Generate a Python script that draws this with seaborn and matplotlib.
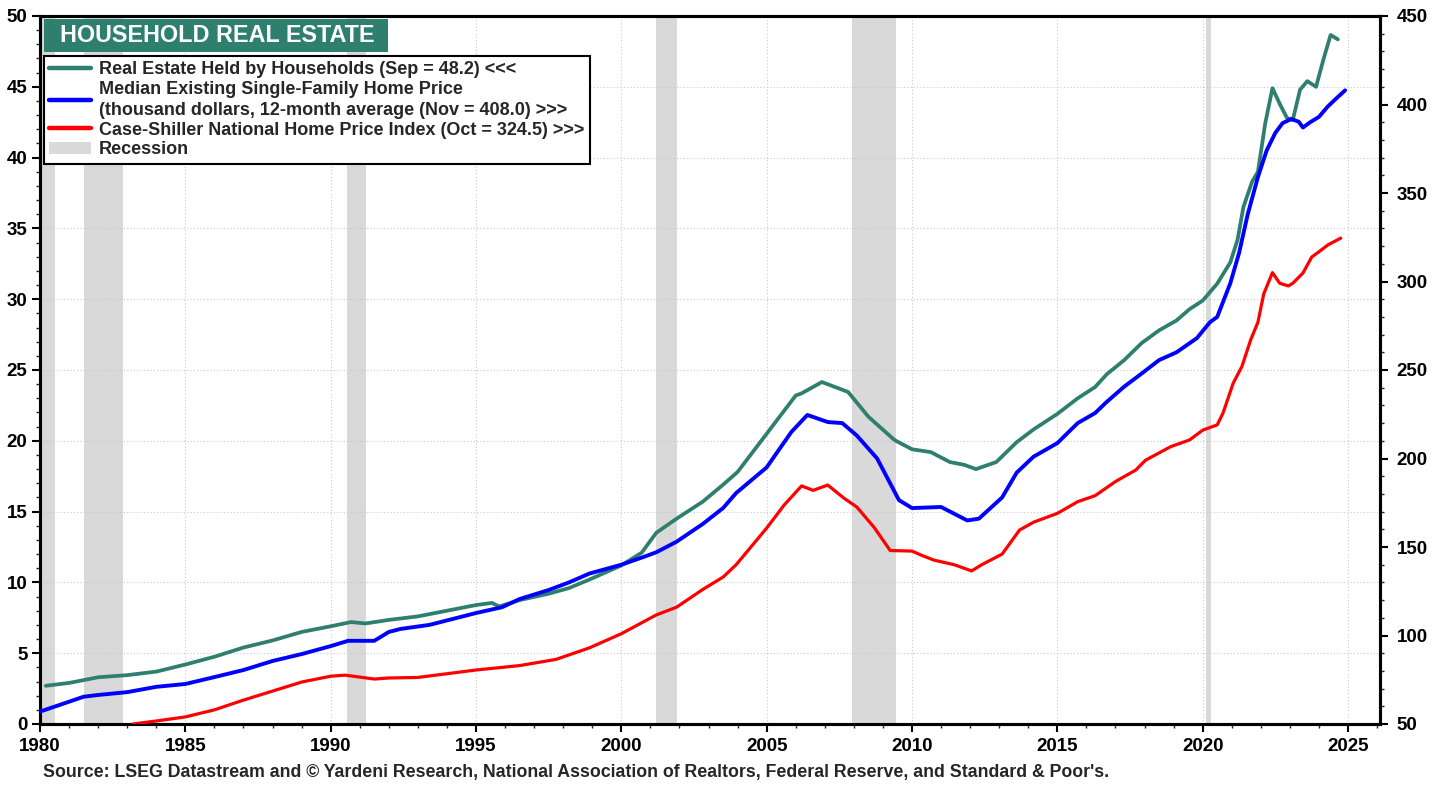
"""
Household real estate vs. median existing home price and Case-Shiller index.
Writes: out.png
"""
import matplotlib.pyplot as plt
import matplotlib.patches as mpatches
import matplotlib.lines as mlines
import pandas as pd
import seaborn as sns
from matplotlib.ticker import MultipleLocator

GREEN = "#2F7F6E"
BLUE = "#0000FF"
RED = "#FF0000"
REC_GRAY = "#D9D9D9"

# Real estate held by households, trillion $ (left axis)
re_years = [1980.2, 1981.0, 1982.0, 1983.0, 1984.0, 1985.0, 1986.0, 1987.0, 1988.0, 1989.0,
            1990.0, 1990.7, 1991.2, 1992.0, 1993.0, 1994.0, 1995.0, 1995.55, 1995.8, 1996.5,
            1997.5, 1998.2, 1998.9, 2000.0, 2000.7, 2001.2, 2001.9, 2002.8, 2003.5, 2004.0,
            2005.0, 2006.0, 2006.2, 2006.9, 2007.8, 2008.5, 2009.4, 2010.0, 2010.65, 2011.3,
            2011.8, 2012.2, 2012.9, 2013.6, 2014.18, 2015.0, 2015.7, 2016.3, 2016.7, 2017.3,
            2017.9, 2018.5, 2019.1, 2019.55, 2020.0, 2020.5, 2020.95, 2021.2, 2021.4, 2021.7,
            2021.9, 2022.15, 2022.4, 2022.65, 2022.9, 2023.1, 2023.35, 2023.6, 2023.9, 2024.15,
            2024.4, 2024.65]
re_values = [2.7, 2.9, 3.3, 3.45, 3.7, 4.2, 4.75, 5.4, 5.9, 6.5,
             6.9, 7.2, 7.1, 7.35, 7.6, 8.0, 8.4, 8.55, 8.3, 8.75,
             9.2, 9.6, 10.2, 11.2, 12.1, 13.5, 14.5, 15.7, 16.9, 17.8,
             20.5, 23.2, 23.35, 24.15, 23.45, 21.7, 20.05, 19.4, 19.2, 18.5,
             18.3, 18.0, 18.5, 19.9, 20.8, 21.9, 23.0, 23.8, 24.7, 25.7,
             26.9, 27.8, 28.5, 29.3, 29.9, 31.1, 32.6, 34.2, 36.5, 38.3,
             39.0, 42.4, 44.9, 43.8, 42.8, 42.65, 44.8, 45.4, 45.0, 46.9,
             48.66, 48.35]

# Median existing single-family home price, thousand $ (right axis)
med_years = [1980.0, 1981.0, 1981.5, 1982.0, 1983.0, 1984.0, 1985.0, 1986.0, 1987.0, 1988.0,
             1989.0, 1990.0, 1990.6, 1991.5, 1992.0, 1992.4, 1993.4, 1995.0, 1995.9, 1996.5,
             1997.5, 1998.2, 1998.9, 2000.0, 2000.7, 2001.2, 2001.9, 2002.8, 2003.5, 2003.95,
             2005.0, 2005.85, 2006.4, 2007.1, 2007.6, 2008.1, 2008.8, 2009.55, 2010.0, 2011.0,
             2011.9, 2012.3, 2013.1, 2013.6, 2014.18, 2015.0, 2015.7, 2016.3, 2016.7, 2017.3,
             2017.9, 2018.5, 2019.1, 2019.8, 2020.25, 2020.5, 2020.95, 2021.25, 2021.55, 2021.9,
             2022.2, 2022.5, 2022.75, 2023.05, 2023.3, 2023.45, 2023.7, 2024.0, 2024.3, 2024.6,
             2024.9]
med_values = [57.0, 62.6, 65.4, 66.4, 68.0, 71.0, 72.6, 76.5, 80.5, 85.6,
              89.5, 94.0, 97.0, 97.0, 102.0, 103.7, 106.0, 112.7, 116.0, 120.6,
              125.7, 130.0, 135.0, 140.0, 144.0, 147.0, 153.0, 163.0, 172.0, 180.5,
              195.0, 215.0, 224.6, 220.6, 220.0, 213.0, 200.0, 176.5, 172.0, 172.6,
              165.0, 166.0, 178.0, 192.0, 201.0, 208.7, 220.0, 225.7, 232.0, 240.6,
              248.0, 255.6, 260.0, 268.0, 277.0, 280.0, 299.0, 316.0, 338.0, 359.0,
              374.0, 384.0, 389.5, 391.8, 390.3, 387.0, 390.0, 393.0, 398.8, 403.5,
              408.0]

# Case-Shiller national home price index (right axis)
cs_years = [1983.2, 1984.0, 1985.0, 1986.0, 1987.0, 1988.0, 1989.0, 1990.0, 1990.5, 1991.5,
            1992.0, 1993.0, 1995.0, 1996.5, 1997.75, 1998.9, 2000.0, 2001.2, 2001.9, 2002.8,
            2003.5, 2003.95, 2005.0, 2005.6, 2006.2, 2006.6, 2007.1, 2007.65, 2008.1, 2008.7,
            2009.25, 2010.0, 2010.3, 2010.75, 2011.45, 2012.05, 2012.4, 2013.1, 2013.7, 2014.18,
            2015.0, 2015.7, 2016.3, 2017.0, 2017.7, 2018.03, 2018.9, 2019.55, 2020.0, 2020.5,
            2020.7, 2021.05, 2021.35, 2021.65, 2021.9, 2022.1, 2022.4, 2022.65, 2022.95, 2023.1,
            2023.45, 2023.75, 2024.0, 2024.3, 2024.75]
cs_values = [50.0, 51.7, 54.0, 58.0, 63.5, 68.6, 73.7, 77.0, 77.6, 75.4,
             76.0, 76.3, 80.5, 83.0, 86.5, 93.0, 101.0, 111.6, 116.0, 126.0,
             133.0, 140.0, 160.7, 173.7, 184.5, 182.0, 185.0, 177.7, 172.6, 161.0,
             148.0, 147.7, 145.5, 142.6, 140.0, 136.5, 140.0, 146.0, 159.6, 164.0,
             169.0, 175.6, 179.0, 187.0, 193.5, 199.0, 206.7, 210.5, 216.0, 219.0,
             225.7, 242.6, 252.0, 267.0, 277.0, 293.0, 305.0, 299.0, 297.5, 299.0,
             304.8, 313.8, 316.8, 320.6, 324.5]

# NBER recessions (start, end) in fractional years
rec_start = [1980.0, 1981.5, 1990.55, 2001.2, 2007.95, 2020.1]
rec_end = [1980.5, 1982.85, 1991.2, 2001.9, 2009.45, 2020.3]

LABELS = [
    "Real Estate Held by Households (Sep = 48.2) <<<",
    "Median Existing Single-Family Home Price\n(thousand dollars, 12-month average (Nov = 408.0) >>>",
    "Case-Shiller National Home Price Index (Oct = 324.5) >>>",
    "Recession",
]
SOURCE = ("Source: LSEG Datastream and \u00a9 Yardeni Research, National Association of Realtors, "
          "Federal Reserve, and Standard & Poor's.")


def main():
    sns.set_style("white")
    plt.rcParams["font.family"] = ["Liberation Sans", "DejaVu Sans"]
    plt.rcParams["font.weight"] = "bold"

    re_df = pd.DataFrame({"year": re_years, "value": re_values})
    med_df = pd.DataFrame({"year": med_years, "value": med_values})
    cs_df = pd.DataFrame({"year": cs_years, "value": cs_values})

    fig = plt.figure(figsize=(14.38, 7.87), dpi=100)
    ax = fig.add_axes([40 / 1438, 63 / 787, 1340 / 1438, 708 / 787])
    ax2 = ax.twinx()

    for s, e in zip(rec_start, rec_end):
        ax.axvspan(s, e, color=REC_GRAY, lw=0, zorder=0)

    sns.lineplot(data=re_df, x="year", y="value", ax=ax, color=GREEN, lw=2.7, zorder=3)
    sns.lineplot(data=med_df, x="year", y="value", ax=ax2, color=BLUE, lw=2.8, zorder=3)
    sns.lineplot(data=cs_df, x="year", y="value", ax=ax2, color=RED, lw=2.3, zorder=3)

    ax.set_xlim(1980, 2026.1)
    ax.set_ylim(0, 50)
    ax2.set_ylim(50, 450)
    ax.set_xlabel("")
    ax.set_ylabel("")
    ax2.set_ylabel("")

    ax.xaxis.set_major_locator(MultipleLocator(5))
    ax.xaxis.set_minor_locator(MultipleLocator(1))
    ax.yaxis.set_major_locator(MultipleLocator(5))
    ax.yaxis.set_minor_locator(MultipleLocator(1))
    ax2.yaxis.set_major_locator(MultipleLocator(50))
    ax2.yaxis.set_minor_locator(MultipleLocator(10))

    ax.set_xticks(ax.get_xticks())
    ax.set_xticklabels([f"{int(t)}" for t in ax.get_xticks()])
    ax.set_xlim(1980, 2026.1)

    for a in (ax, ax2):
        a.tick_params(which="major", direction="out", length=6, width=1.5,
                      labelsize=13.5, colors="black")
        a.tick_params(which="minor", direction="out", length=3, width=1.0)
        for sp in a.spines.values():
            sp.set_color("black")
            sp.set_linewidth(2.2)
    ax.tick_params(axis="y", which="both", left=True, right=False, pad=3)
    ax2.tick_params(axis="y", which="both", left=False, right=True, pad=6)
    ax.tick_params(axis="x", which="both", bottom=True, pad=4)

    ax.grid(True, which="major", color="#C8C8C8", lw=0.8, ls=(0, (1, 2)), zorder=1)
    ax.set_axisbelow(True)

    # title box
    ax2.add_patch(mpatches.Rectangle((0.003, 0.949), 0.2567, 0.0466, transform=ax2.transAxes,
                                     facecolor=GREEN, edgecolor="none", zorder=5))
    ax2.text(0.0149, 0.972, "HOUSEHOLD REAL ESTATE", transform=ax2.transAxes,
             color="white", fontsize=16.8, fontweight="bold", va="center", ha="left", zorder=6)

    handles = [
        mlines.Line2D([], [], color=GREEN, lw=3.2),
        mlines.Line2D([], [], color=BLUE, lw=3.2),
        mlines.Line2D([], [], color=RED, lw=3.2),
        mpatches.Patch(facecolor=REC_GRAY, edgecolor="none"),
    ]
    leg = ax2.legend(handles, LABELS, loc="upper left", bbox_to_anchor=(0.003, 0.9435),
                     frameon=True, fancybox=False, edgecolor="black", framealpha=1,
                     prop={"size": 13, "weight": "bold"}, borderpad=0.3,
                     labelspacing=0.15, handlelength=2.3, handletextpad=0.45,
                     borderaxespad=0)
    for t in leg.get_texts():
        t.set_linespacing(1.3)
    leg.get_frame().set_linewidth(1.5)
    leg.set_zorder(6)

    fig.text(43 / 1438, 1 - 773 / 787, SOURCE, fontsize=12.8, fontweight="bold",
             va="center", ha="left")

    fig.savefig("out.png", dpi=100)
    plt.close(fig)


if __name__ == "__main__":
    main()
